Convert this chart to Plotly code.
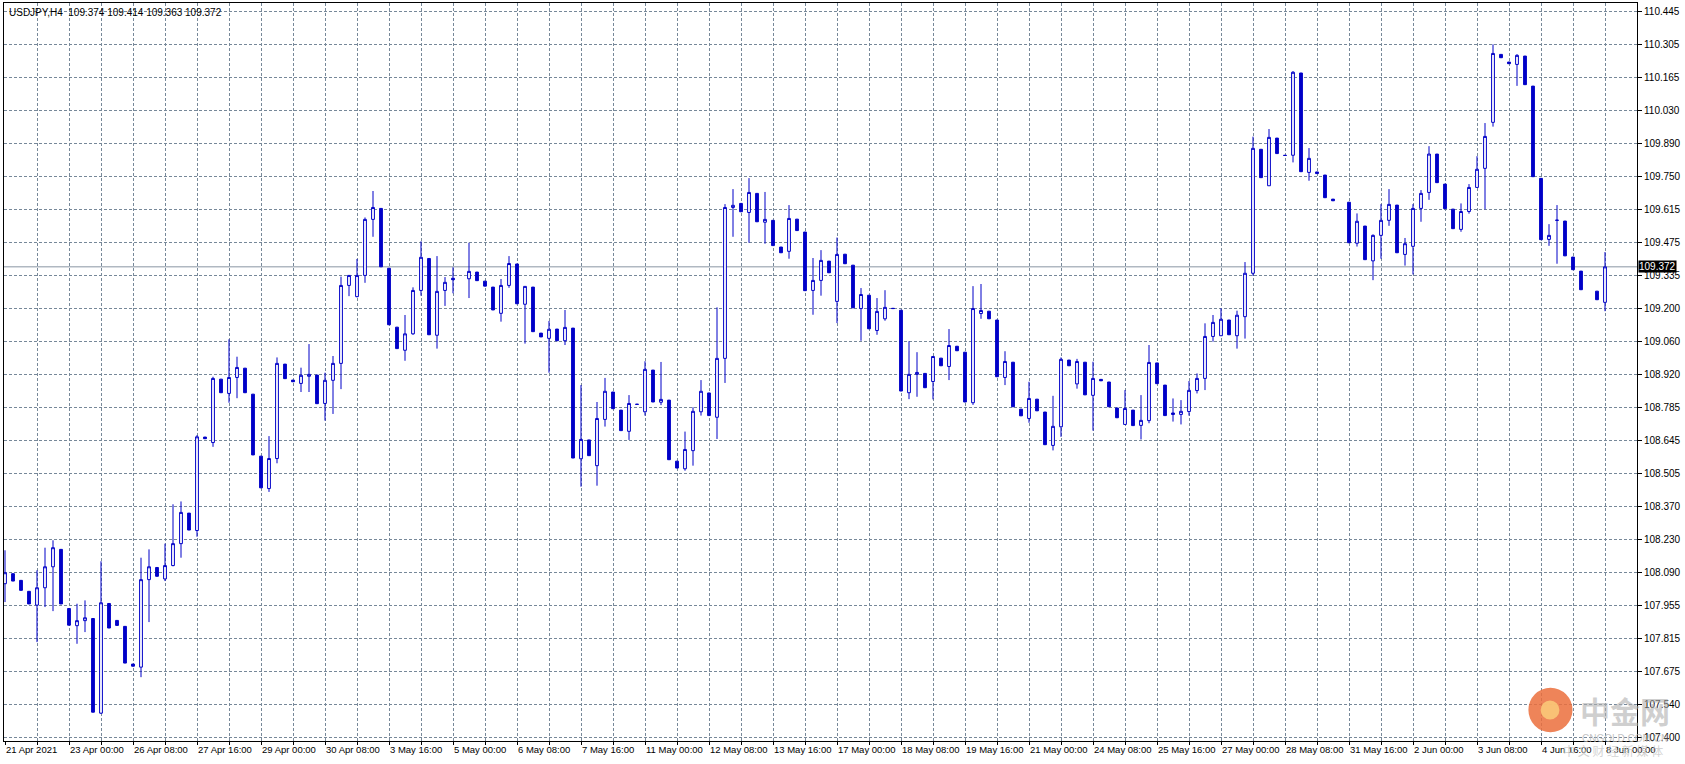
import pandas as pd
import plotly.graph_objects as go

N = None
# OHLC of USDJPY H4 bars (21 Apr 2021 16:00 -> 8 Jun 2021 00:00); None = bar not drawn (doji in line colour)
opens = [108.043,108.085,108.057,108.011,107.953,108.026,108.114,108.187,107.939,107.867,
         107.888,107.897,107.500,107.960,107.889,107.864,107.706,107.693,108.060,108.111,
         108.063,108.119,108.211,108.339,108.266,108.658,108.635,108.901,108.841,108.908,
         108.947,108.838,108.578,108.442,108.568,108.964,108.897,108.883,108.913,108.918,
         108.799,108.896,108.967,109.294,109.247,109.336,109.571,109.617,109.366,109.119,
         109.022,109.091,109.273,109.407,109.085,109.273,109.324,N,109.322,109.350,
         109.312,109.287,109.177,109.294,109.384,109.215,109.287,109.094,109.072,109.111,
         109.062,109.115,108.567,108.646,108.538,108.732,108.847,108.771,108.682,108.796,
         108.764,108.939,108.804,108.813,108.557,108.525,108.601,108.764,108.843,108.741,
         108.988,109.621,109.638,109.600,109.680,109.559,109.567,109.455,109.437,109.572,
         109.518,109.273,109.315,109.396,109.227,109.425,109.379,109.197,109.253,109.105,
         109.154,109.198,109.190,108.844,108.921,108.925,108.891,108.989,108.954,109.039,
         109.014,108.802,109.176,109.186,109.149,108.908,108.972,108.775,108.736,108.817,
         108.763,108.623,108.701,108.981,108.881,108.972,108.833,108.900,108.889,108.780,
         108.711,108.771,108.707,108.727,108.969,108.876,108.759,108.753,108.765,108.853,
         108.904,109.080,109.083,109.149,109.083,109.163,109.345,109.865,109.712,109.912,
         109.840,109.840,110.185,109.768,109.770,109.757,109.656,N,109.643,109.471,
         109.543,109.397,109.504,109.567,109.631,109.424,109.458,109.617,109.684,109.845,
         109.719,109.614,109.529,109.604,109.705,109.785,109.978,110.263,110.231,110.221,
         110.256,110.130,109.743,109.487,109.568,109.564,109.413,109.354,N,109.270,
         109.223]
highs = [108.183,108.085,108.057,108.011,108.099,108.194,108.225,108.187,107.939,107.959,
         107.973,107.897,108.137,107.960,107.889,107.864,107.706,108.152,108.187,108.111,
         108.211,108.376,108.388,108.339,108.666,108.658,108.911,108.901,109.068,108.995,
         108.947,108.838,108.578,108.662,108.992,108.964,108.897,108.949,109.048,108.918,
         108.928,108.998,109.331,109.336,109.405,109.579,109.690,109.617,109.366,109.119,
         109.170,109.286,109.479,109.407,109.417,109.329,109.370,N,109.473,109.350,
         109.312,109.287,109.321,109.417,109.384,109.290,109.287,109.094,109.145,109.111,
         109.191,109.115,108.876,108.646,108.805,108.906,108.847,108.771,108.834,108.796,
         108.976,108.939,108.973,108.813,108.557,108.681,108.783,108.897,108.843,109.202,
         109.635,109.698,109.638,109.744,109.680,109.686,109.567,109.455,109.631,109.572,
         109.518,109.409,109.442,109.396,109.495,109.425,109.379,109.283,109.253,109.241,
         109.274,109.198,109.190,109.060,109.014,108.925,108.996,108.989,109.111,109.039,
         109.014,109.291,109.300,109.186,109.149,109.018,108.972,108.775,108.890,108.817,
         108.763,108.831,108.992,108.981,108.986,108.972,108.974,108.900,108.889,108.780,
         108.855,108.771,108.834,109.044,108.969,108.876,108.820,108.813,108.893,108.925,
         109.135,109.170,109.198,109.149,109.188,109.392,109.918,109.865,109.950,109.912,
         109.840,110.193,110.185,109.870,109.770,109.757,109.656,N,109.643,109.596,
         109.543,109.508,109.635,109.698,109.631,109.493,109.635,109.694,109.878,109.845,
         109.719,109.614,109.638,109.719,109.836,109.975,110.305,110.263,110.231,110.264,
         110.256,110.130,109.743,109.551,109.631,109.564,109.413,109.354,N,109.270,
         109.434]
lows = [107.966,108.054,108.015,107.958,107.798,107.945,107.928,107.958,107.869,107.791,
        107.840,107.504,107.497,107.857,107.868,107.710,107.697,107.651,107.882,108.074,
        108.054,108.116,108.152,108.268,108.240,108.651,108.617,108.844,108.802,108.821,
        108.844,108.583,108.445,108.428,108.548,108.903,108.890,108.847,108.847,108.798,
        108.727,108.755,108.859,109.249,109.244,109.305,109.498,109.372,109.129,109.029,
        108.978,109.087,109.251,109.087,109.029,109.208,109.261,N,109.241,109.314,
        109.291,109.191,109.142,109.284,109.217,109.050,109.100,109.078,108.928,109.062,
        109.044,108.570,108.450,108.580,108.454,108.702,108.777,108.685,108.646,108.795,
        108.748,108.805,108.792,108.563,108.528,108.517,108.538,108.748,108.748,108.650,
        108.885,109.498,109.603,109.473,109.561,109.469,109.461,109.431,109.406,109.524,
        109.272,109.171,109.251,109.347,109.136,109.385,109.200,109.062,109.112,109.087,
        109.146,109.197,108.851,108.817,108.827,108.865,108.816,108.957,108.897,109.020,
        108.805,108.793,109.154,109.154,108.911,108.876,108.785,108.747,108.718,108.768,
        108.626,108.602,108.659,108.957,108.861,108.835,108.685,108.894,108.785,108.739,
        108.711,108.706,108.648,108.716,108.882,108.748,108.723,108.711,108.748,108.841,
        108.855,109.058,109.083,109.087,109.029,109.071,109.334,109.746,109.712,109.847,
        109.839,109.810,109.771,109.733,109.763,109.662,109.649,N,109.473,109.457,
        109.402,109.316,109.406,109.544,109.431,109.377,109.340,109.561,109.653,109.725,
        109.616,109.532,109.519,109.595,109.705,109.613,109.960,110.249,110.224,110.131,
        110.136,109.750,109.486,109.460,109.385,109.418,109.360,109.276,N,109.234,
        109.186]
closes = [108.089,108.054,108.015,107.958,108.026,108.114,108.194,107.958,107.869,107.888,
          107.900,107.504,107.963,107.857,107.868,107.710,107.697,108.060,108.114,108.074,
          108.119,108.211,108.342,108.268,108.659,108.651,108.904,108.844,108.908,108.950,
          108.844,108.583,108.445,108.568,108.967,108.903,108.890,108.917,108.921,108.798,
          108.896,108.967,109.294,109.336,109.336,109.571,109.621,109.372,109.129,109.029,
          109.091,109.273,109.412,109.087,109.269,109.307,109.318,N,109.353,109.314,
          109.291,109.191,109.294,109.386,109.217,109.290,109.100,109.078,109.110,109.062,
          109.118,108.570,108.648,108.580,108.736,108.850,108.777,108.685,108.799,108.795,
          108.942,108.805,108.816,108.563,108.528,108.606,108.766,108.850,108.748,108.988,
          109.621,109.630,109.603,109.684,109.561,109.571,109.461,109.431,109.575,109.524,
          109.272,109.315,109.399,109.347,109.424,109.385,109.200,109.256,109.112,109.185,
          109.202,109.197,108.851,108.921,108.929,108.865,108.996,108.957,109.042,109.020,
          108.805,109.197,109.189,109.154,108.911,108.975,108.785,108.747,108.820,108.768,
          108.626,108.703,108.984,108.957,108.975,108.835,108.904,108.894,108.785,108.739,
          108.778,108.706,108.728,108.971,108.882,108.748,108.753,108.766,108.854,108.904,
          109.080,109.139,109.152,109.087,109.169,109.345,109.869,109.746,109.915,109.847,
          109.839,110.188,109.771,109.827,109.763,109.662,109.649,N,109.473,109.563,
          109.402,109.504,109.567,109.634,109.431,109.469,109.617,109.680,109.845,109.725,
          109.616,109.532,109.604,109.705,109.781,109.919,110.267,110.249,110.224,110.259,
          110.136,109.750,109.486,109.504,109.567,109.418,109.360,109.276,N,109.234,
          109.372]

date_labels = ["21 Apr 2021", "23 Apr 00:00", "26 Apr 08:00", "27 Apr 16:00", "29 Apr 00:00",
               "30 Apr 08:00", "3 May 16:00", "5 May 00:00", "6 May 08:00", "7 May 16:00",
               "11 May 00:00", "12 May 08:00", "13 May 16:00", "17 May 00:00", "18 May 08:00",
               "19 May 16:00", "21 May 00:00", "24 May 08:00", "25 May 16:00", "27 May 00:00",
               "28 May 08:00", "31 May 16:00", "2 Jun 00:00", "3 Jun 08:00", "4 Jun 16:00",
               "8 Jun 00:00"]
price_labels = ["110.445", "110.305", "110.165", "110.030", "109.890", "109.750", "109.615",
                "109.475", "109.335", "109.200", "109.060", "108.920", "108.785", "108.645",
                "108.505", "108.370", "108.230", "108.090", "107.955", "107.815", "107.675",
                "107.540", "107.400"]
header = "USDJPY,H4  109.374 109.414 109.363 109.372"
last_price = 109.372

# H4 bar times, weekdays only
rng = pd.date_range("2021-04-21 16:00", "2021-06-08 00:00", freq="4h")
rng = rng[rng.dayofweek < 5]
times = list(rng.strftime("%Y-%m-%d %H:%M"))
assert len(times) == len(opens) == len(closes) == len(highs) == len(lows)

BLUE = "#0000C8"
GRID = "#778899"

fig = go.Figure(go.Candlestick(
    x=times, open=opens, high=highs, low=lows, close=closes,
    increasing=dict(line=dict(color=BLUE, width=1), fillcolor="white"),
    decreasing=dict(line=dict(color=BLUE, width=1), fillcolor=BLUE),
    whiskerwidth=0, hoverinfo="skip", showlegend=False,
))

# ticks: grid every 4 bars, labels every 8 bars
tickvals = times[::4]
ticktext = []
for k, t in enumerate(tickvals):
    ticktext.append(date_labels[k // 2] if k % 2 == 0 else "")

pmax = float(price_labels[0]); pmin = float(price_labels[-1])
step = (pmax - pmin) / (len(price_labels) - 1)
ytickvals = [pmax - k * step for k in range(len(price_labels))]
pxp = step / 33.0  # price per pixel

fig.update_layout(
    width=1685, height=764,
    margin=dict(l=4, r=48, t=3, b=23),
    paper_bgcolor="white", plot_bgcolor="white",
    boxgap=0.5,
    font=dict(family="Liberation Sans", size=10, color="black"),
    xaxis=dict(
        type="category", categoryorder="array", categoryarray=times,
        range=[-0.125, 204], rangeslider=dict(visible=False),
        tickmode="array", tickvals=tickvals, ticktext=ticktext, tickangle=0,
        ticks="outside", ticklen=3, tickcolor="black", ticklabelposition="outside right",
        showgrid=True, gridcolor=GRID, griddash="3px,2px", gridwidth=1,
        showline=True, linecolor="black", linewidth=1, mirror=True,
        tickfont=dict(size=9.5), fixedrange=True, zeroline=False,
    ),
    yaxis=dict(
        side="right", range=[pmin - 4 * pxp, pmax + 8 * pxp],
        tickmode="array", tickvals=ytickvals, ticktext=price_labels,
        ticks="outside", ticklen=4, tickcolor="black",
        showgrid=True, gridcolor=GRID, griddash="3px,2px", gridwidth=1,
        showline=True, linecolor="black", linewidth=1, mirror=True,
        tickfont=dict(size=10), zeroline=False, fixedrange=True,
    ),
    shapes=[
        dict(type="line", xref="paper", x0=0, x1=1, yref="y", y0=last_price, y1=last_price,
             line=dict(color="#8a96a3", width=1), layer="below"),
    ],
    annotations=[
        dict(text=header, xref="paper", yref="paper", x=0.002, y=0.997, xanchor="left",
             yanchor="top", showarrow=False, font=dict(size=10, color="black")),
        dict(text=f"{last_price:.3f}", xref="paper", yref="y", x=1, y=last_price,
             xanchor="left", yanchor="middle", xshift=1, showarrow=False,
             bgcolor="black", borderpad=0, font=dict(size=10, color="white")),
        dict(text="<b>中金网</b>", xref="paper", yref="paper", x=0.9927, y=0.042, xanchor="center",
             yanchor="middle", showarrow=False,
             font=dict(family="Noto Sans CJK SC", size=30, color="rgba(175,175,175,0.6)")),
        dict(text="CNGOLD.COM.CN", xref="paper", yref="paper", x=0.9927, y=0.004, xanchor="center",
             yanchor="middle", showarrow=False,
             font=dict(family="Liberation Sans", size=10, color="rgba(180,180,180,0.8)")),
        dict(text="中 文 财 经 新 媒 体", xref="paper", yref="paper", x=0.985, y=-0.013, xanchor="center",
             yanchor="middle", showarrow=False,
             font=dict(family="Noto Sans CJK SC", size=12, color="rgba(200,200,200,0.8)")),
    ],
)
fig.add_shape(type="circle", xref="paper", yref="paper",
              x0=0.9335, x1=0.9605, y0=0.012, y1=0.072,
              fillcolor="rgba(235,110,60,0.85)", line=dict(width=0))
fig.add_shape(type="circle", xref="paper", yref="paper",
              x0=0.941, x1=0.9525, y0=0.029, y1=0.055,
              fillcolor="rgba(250,200,120,0.9)", line=dict(width=0))

fig.write_html("out.html", config={"displayModeBar": False},
               post_script="document.body.style.margin='0';document.body.style.overflow='hidden';")
